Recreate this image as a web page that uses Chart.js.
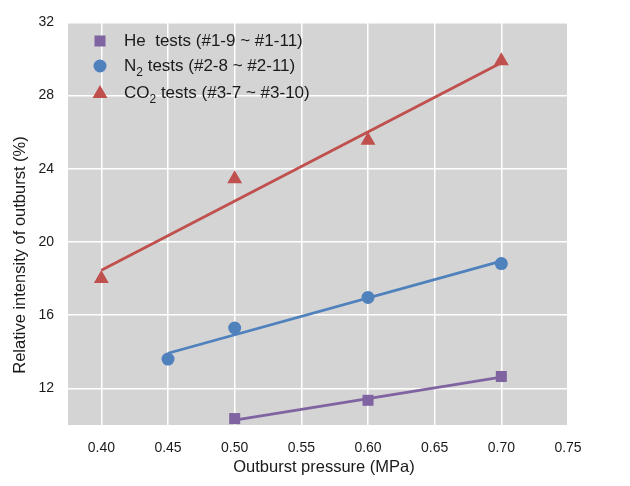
<!DOCTYPE html>
<html>
<head>
<meta charset="utf-8">
<script src="https://cdn.jsdelivr.net/npm/chart.js@4/dist/chart.umd.min.js"></script>
<style>
  html, body { margin: 0; padding: 0; background: #ffffff; }
  #wrap { width: 630px; height: 486px; }
</style>
</head>
<body>
<div id="wrap"><canvas id="c" width="630" height="486"></canvas></div>
<script>
// Measured outburst intensity for each gas
const hePressure  = [0.50, 0.60, 0.70];
const heIntensity = [10.35, 11.35, 12.65];

const n2Pressure  = [0.45, 0.50, 0.60, 0.70];
const n2Intensity = [13.6, 15.3, 16.97, 18.82];

const co2Pressure  = [0.40, 0.50, 0.60, 0.70];
const co2Intensity = [18.0, 23.45, 25.55, 29.9];

// Linear trend lines (end points)
const heFitPressure  = [0.50, 0.70];
const heFitIntensity = [10.26, 12.61];
const n2FitPressure  = [0.45, 0.70];
const n2FitIntensity = [13.92, 18.96];
const co2FitPressure  = [0.40, 0.70];
const co2FitIntensity = [18.45, 29.8];

// Axis ticks
const xTicks = [0.40, 0.45, 0.50, 0.55, 0.60, 0.65, 0.70, 0.75];
const yTicks = [12, 16, 20, 24, 28, 32];

// Legend entries
const legendItems = [
  { main: 'He', sub: '', rest: '  tests (#1-9 ~ #1-11)', color: '#8064a2', style: 'rect' },
  { main: 'N', sub: '2', rest: ' tests (#2-8 ~ #2-11)', color: '#4f81bd', style: 'circle' },
  { main: 'CO', sub: '2', rest: ' tests (#3-7 ~ #3-10)', color: '#c0504d', style: 'triangle' }
];

const FONT = '"Liberation Sans", Arial, sans-serif';
const PURPLE = '#8064a2', BLUE = '#4f81bd', RED = '#c0504d';

const pts = (xs, ys) => xs.map((x, i) => ({ x: x, y: ys[i] }));

function markerSet(label, xs, ys, color, style, radius) {
  return {
    label: label, data: pts(xs, ys), showLine: false,
    pointStyle: style, pointRadius: radius, pointHoverRadius: radius,
    pointBackgroundColor: color, pointBorderColor: color, pointBorderWidth: 0,
    order: 0, clip: false
  };
}
function fitSet(label, xs, ys, color) {
  return {
    label: label, data: pts(xs, ys), showLine: true,
    borderColor: color, borderWidth: 2.8, pointRadius: 0, pointHoverRadius: 0,
    fill: false, order: 1
  };
}

// Grey plot background
const plotBackground = {
  id: 'plotBackground',
  beforeDraw(chart) {
    const a = chart.chartArea, ctx = chart.ctx;
    ctx.save();
    ctx.fillStyle = '#d4d4d4';
    ctx.fillRect(a.left, a.top, a.right - a.left, a.bottom - a.top);
    ctx.restore();
  }
};

// Legend with subscripts and axis titles
const annotations = {
  id: 'annotations',
  afterDraw(chart) {
    const ctx = chart.ctx, a = chart.chartArea;
    ctx.save();
    const rowY = [41, 66, 93];
    legendItems.forEach((it, i) => {
      const y = rowY[i], mx = 100;
      ctx.fillStyle = it.color;
      ctx.beginPath();
      if (it.style === 'rect') {
        ctx.rect(mx - 5.5, y - 5.5, 11, 11);
      } else if (it.style === 'circle') {
        ctx.arc(mx, y, 6.5, 0, Math.PI * 2);
      } else {
        ctx.moveTo(mx, y - 8);
        ctx.lineTo(mx + 7.5, y + 5);
        ctx.lineTo(mx - 7.5, y + 5);
        ctx.closePath();
      }
      ctx.fill();
      ctx.fillStyle = '#1a1a1a';
      ctx.textBaseline = 'middle';
      ctx.textAlign = 'left';
      let x = 124;
      ctx.font = '17px ' + FONT;
      ctx.fillText(it.main, x, y);
      x += ctx.measureText(it.main).width;
      if (it.sub) {
        ctx.font = '12px ' + FONT;
        ctx.fillText(it.sub, x, y + 7);
        x += ctx.measureText(it.sub).width;
      }
      ctx.font = '17px ' + FONT;
      ctx.fillText(it.rest, x, y);
    });

    // axis titles
    ctx.fillStyle = '#1a1a1a';
    ctx.font = '16.5px ' + FONT;
    ctx.textAlign = 'center';
    ctx.textBaseline = 'middle';
    ctx.fillText('Outburst pressure (MPa)', 324, 467);
    ctx.translate(20, 255);
    ctx.rotate(-Math.PI / 2);
    ctx.fillText('Relative intensity of outburst (%)', 0, 0);
    ctx.restore();
  }
};

new Chart(document.getElementById('c'), {
  type: 'scatter',
  data: {
    datasets: [
      markerSet('He tests (#1-9 ~ #1-11)', hePressure, heIntensity, PURPLE, 'rect', 7.8),
      markerSet('N2 tests (#2-8 ~ #2-11)', n2Pressure, n2Intensity, BLUE, 'circle', 6.5),
      markerSet('CO2 tests (#3-7 ~ #3-10)', co2Pressure, co2Intensity, RED, 'triangle', 8.6),
      fitSet('He fit', heFitPressure, heFitIntensity, PURPLE),
      fitSet('N2 fit', n2FitPressure, n2FitIntensity, BLUE),
      fitSet('CO2 fit', co2FitPressure, co2FitIntensity, RED)
    ]
  },
  options: {
    responsive: false,
    animation: false,
    devicePixelRatio: 1,
    layout: { padding: { left: 0, right: 62, top: 18, bottom: 0 } },
    plugins: { legend: { display: false }, tooltip: { enabled: false } },
    scales: {
      x: {
        type: 'linear', min: 0.375, max: 0.75,
        afterBuildTicks(s) { s.ticks = xTicks.map(v => ({ value: v })); },
        afterFit(s) { s.height = 61; },
        grid: { color: '#ffffff', lineWidth: 1.5, drawTicks: false },
        border: { display: false },
        ticks: {
          padding: 15, color: '#1a1a1a', font: { family: FONT, size: 14 },
          callback: v => Number(v).toFixed(2)
        }
      },
      y: {
        type: 'linear', min: 10, max: 32,
        afterBuildTicks(s) { s.ticks = yTicks.map(v => ({ value: v })); },
        afterFit(s) { s.width = 68; },
        grid: { color: '#ffffff', lineWidth: 1.5, drawTicks: false },
        border: { display: false },
        ticks: {
          padding: 14, color: '#1a1a1a', font: { family: FONT, size: 14 },
          callback: v => String(v)
        }
      }
    }
  },
  plugins: [plotBackground, annotations]
});
</script>
</body>
</html>
